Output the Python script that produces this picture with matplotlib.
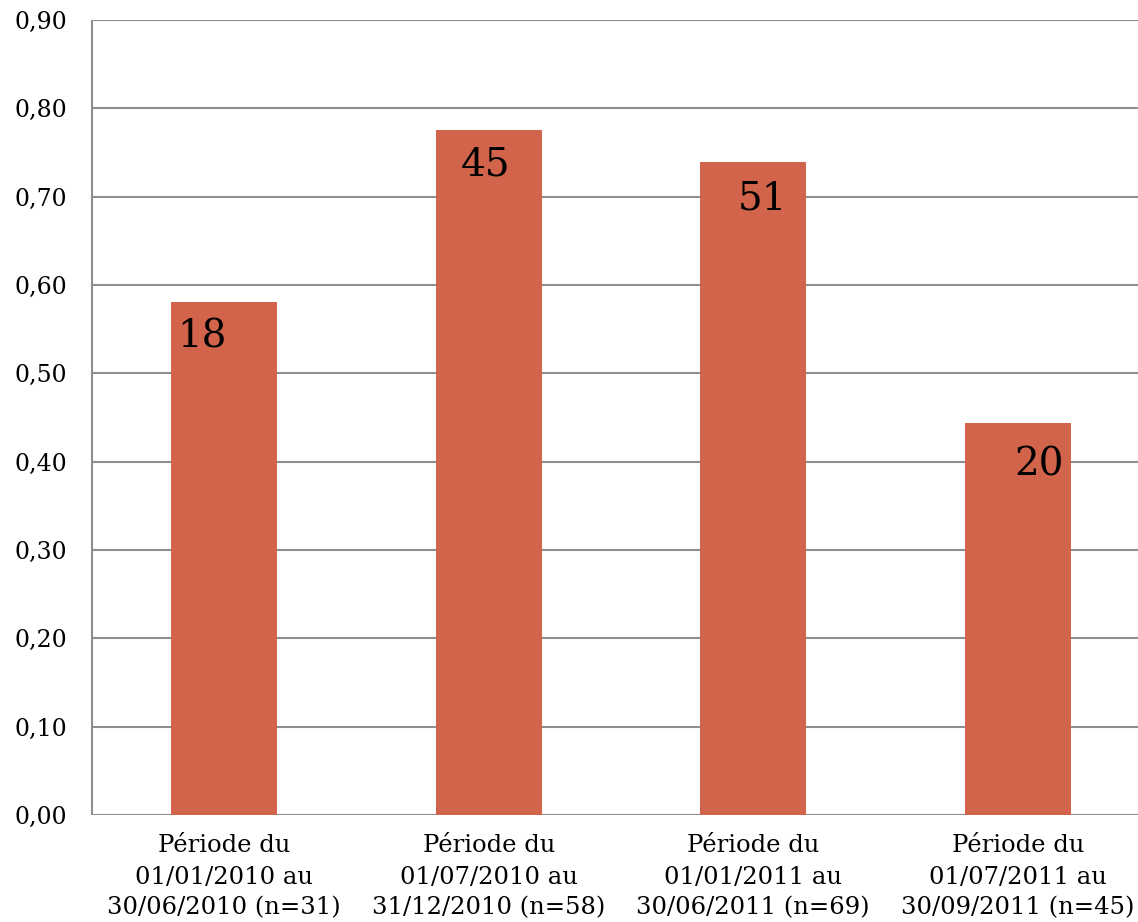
import matplotlib.pyplot as plt

categories = [
    "Période du\n01/01/2010 au\n30/06/2010 (n=31)",
    "Période du\n01/07/2010 au\n31/12/2010 (n=58)",
    "Période du\n01/01/2011 au\n30/06/2011 (n=69)",
    "Période du\n01/07/2011 au\n30/09/2011 (n=45)",
]
values = [0.581, 0.776, 0.739, 0.444]
bar_labels = ["18", "45", "51", "20"]
yticks = [0.0, 0.1, 0.2, 0.3, 0.4, 0.5, 0.6, 0.7, 0.8, 0.9]

# nudge of each label (pixels), as in the original
label_dx = [-22, -3, 9, 21]
label_dy = [-6, -6, -7, -13]

bar_color = "#D1644A"
grid_color = "#8E8E8E"

plt.rcParams["font.family"] = ["DejaVu Serif"]

fig = plt.figure(figsize=(11.38, 9.22), dpi=100)
ax = fig.add_axes([0.0808, 0.1161, 0.9297, 0.8622])

x = range(len(categories))
ax.bar(x, values, width=0.4, color=bar_color, zorder=3)

ax.set_xlim(-0.5, len(categories) - 0.5)
ax.set_ylim(0, 0.9)
ax.set_yticks(yticks)
ax.set_yticklabels([f"{t:.2f}".replace(".", ",") for t in yticks])
ax.set_xticks(list(x))
ax.set_xticklabels(categories, linespacing=1.45)
ax.tick_params(axis="y", length=0, width=0, pad=18, labelsize=17)
ax.tick_params(axis="x", length=0, width=0, pad=14, labelsize=17.5)

ax.yaxis.grid(True, color=grid_color, linewidth=1.5, zorder=0,
              solid_capstyle="butt")
for side in ["top", "right", "bottom"]:
    ax.spines[side].set_visible(False)
ax.spines["left"].set_color(grid_color)
ax.spines["left"].set_linewidth(1.5)
ax.spines["left"].set_capstyle("butt")

for i, (v, lab) in enumerate(zip(values, bar_labels)):
    ax.annotate(
        lab,
        (i, v),
        xytext=(label_dx[i] * 0.72, label_dy[i] * 0.72 - 8),
        textcoords="offset points",
        ha="center",
        va="top",
        fontsize=28,
        zorder=4,
    )

fig.savefig("out.png", dpi=100)
